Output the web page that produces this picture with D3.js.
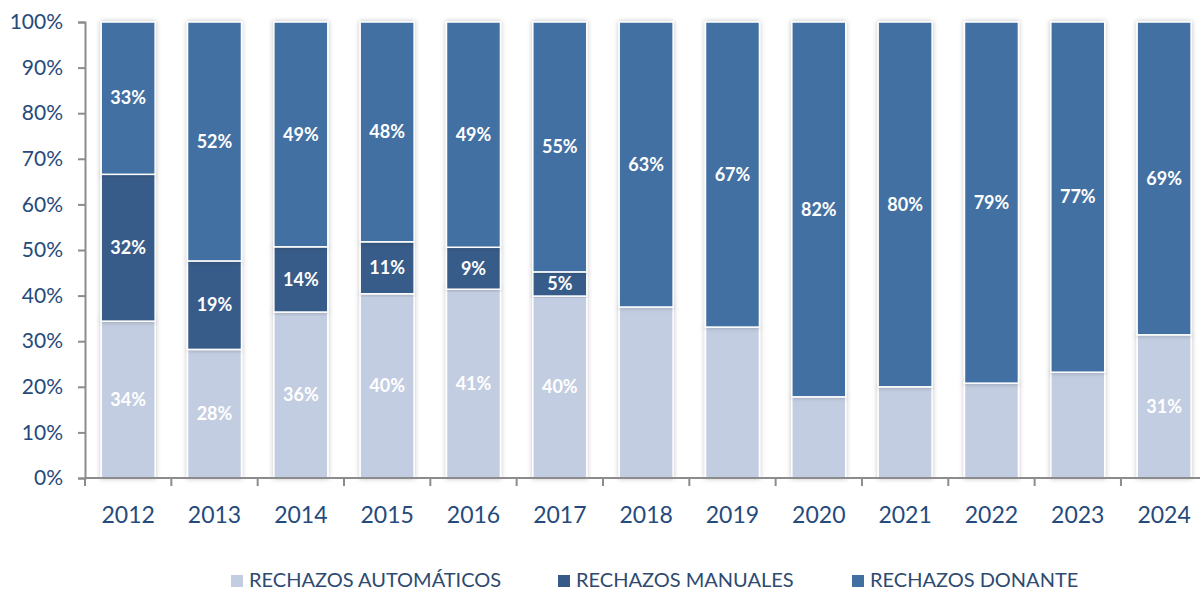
<!DOCTYPE html>
<html>
<head>
<meta charset="utf-8">
<script src="https://cdn.jsdelivr.net/npm/d3@7"></script>
<style>
  body { margin: 0; background: #fff; }
  svg { display: block; font-family: Lato, "Open Sans", sans-serif; }
</style>
</head>
<body>
<script>
// data (percent of rejections per year)
var years = ["2012","2013","2014","2015","2016","2017","2018","2019","2020","2021","2022","2023","2024"];
var automaticos = [34.4, 28.2, 36.4, 40.4, 41.4, 39.9, 37.5, 33.1, 17.8, 20.0, 20.8, 23.2, 31.4];
var manuales    = [32.2, 19.4, 14.3, 11.4, 9.2, 5.3, 0, 0, 0, 0, 0, 0, 0];
var donante     = [33.4, 52.4, 49.3, 48.2, 49.4, 54.8, 62.5, 66.9, 82.2, 80.0, 79.2, 76.8, 68.6];
var showAutoLabel = [true, true, true, true, true, true, false, false, false, false, false, false, true];
var seriesNames = ["RECHAZOS AUTOMÁTICOS", "RECHAZOS MANUALES", "RECHAZOS DONANTE"];
var yTicks = [0, 10, 20, 30, 40, 50, 60, 70, 80, 90, 100];

var colors = ["#c3cde1", "#375b89", "#426fa2"];

var width = 1200;
var height = 591;

var rows = years.map(function(y, i){
    return { year: y, auto: automaticos[i], manual: manuales[i], donante: donante[i], showAuto: showAutoLabel[i] };
});

var svg = d3.select("body").append("svg")
    .attr("width", width)
    .attr("height", height);

var defs = svg.append("defs");
var f = defs.append("filter").attr("id", "shadow")
    .attr("x", "-20%").attr("y", "-5%").attr("width", "140%").attr("height", "110%");
f.append("feDropShadow").attr("dx", 0).attr("dy", 0).attr("stdDeviation", 2.5)
    .attr("flood-color", "#000").attr("flood-opacity", 0.25);

var x = d3.scaleBand()
    .domain(years)
    .range([85, 85 + 13 * 86.33])
    .paddingInner(0.375)
    .paddingOuter(0.1875);

var y = d3.scaleLinear()
    .domain([0, 100])
    .range([478, 22]);

var keys = ["auto", "manual", "donante"];
var stack = d3.stack().keys(keys);
var stacked = stack(rows);

// y axis
var yAxis = svg.append("g")
    .attr("transform", "translate(85,0)")
    .call(d3.axisLeft(y).tickValues(yTicks).tickSize(7).tickPadding(15).tickFormat(function(d){ return d + "%"; }));
yAxis.select(".domain").attr("stroke", "#8c8c8c").attr("stroke-width", 2);
yAxis.selectAll(".tick line").attr("stroke", "#8c8c8c").attr("stroke-width", 2);
yAxis.selectAll("text").attr("fill", "#254a7c").style("font-size", "21px").style("font-family", "Lato, sans-serif");

// bars
var groups = svg.append("g").selectAll("g")
    .data(stacked)
    .enter().append("g")
    .attr("fill", function(d, i){ return colors[i]; });

groups.selectAll("rect")
    .data(function(d){ return d; })
    .enter().append("rect")
    .filter(function(d){ return d[1] - d[0] > 0; })
    .attr("x", function(d){ return x(d.data.year); })
    .attr("y", function(d){ return y(d[1]); })
    .attr("width", x.bandwidth())
    .attr("height", function(d){ return y(d[0]) - y(d[1]); })
    .attr("stroke", "#fff")
    .attr("stroke-width", 1.5)
    .attr("filter", "url(#shadow)");

// data labels
groups.each(function(s, si){
    d3.select(this).selectAll("text")
        .data(s.filter(function(d){
            if (d[1] - d[0] <= 0) return false;
            if (si === 0) return d.data.showAuto;
            return true;
        }))
        .enter().append("text")
        .attr("x", function(d){ return x(d.data.year) + x.bandwidth() / 2; })
        .attr("y", function(d){ return y((d[0] + d[1]) / 2); })
        .attr("dy", "0.35em")
        .attr("text-anchor", "middle")
        .attr("fill", "#fff")
        .style("font-size", "18px")
        .style("font-weight", "bold")
        .text(function(d){ return Math.round(d[1] - d[0]) + "%"; });
});

// x axis
var xAxis = svg.append("g")
    .attr("transform", "translate(0,478)");
xAxis.append("line")
    .attr("x1", 85).attr("x2", 85 + 13 * 86.33)
    .attr("stroke", "#8c8c8c").attr("stroke-width", 2);
xAxis.selectAll(".sep")
    .data(years)
    .enter().append("line")
    .attr("class", "sep")
    .attr("x1", function(d){ return x(d) - x.step() * 0.1875; })
    .attr("x2", function(d){ return x(d) - x.step() * 0.1875; })
    .attr("y1", 0).attr("y2", 8)
    .attr("stroke", "#8c8c8c").attr("stroke-width", 2);
xAxis.selectAll(".lbl")
    .data(years)
    .enter().append("text")
    .attr("x", function(d){ return x(d) + x.bandwidth() / 2; })
    .attr("y", 45)
    .attr("text-anchor", "middle")
    .attr("fill", "#254a7c")
    .style("font-size", "23px")
    .text(function(d){ return d; });

// legend
var legendX = [231, 558, 852];
var legend = svg.append("g").selectAll("g")
    .data(seriesNames)
    .enter().append("g")
    .attr("transform", function(d, i){ return "translate(" + legendX[i] + ",587)"; });
legend.append("rect")
    .attr("x", 0).attr("y", -12)
    .attr("width", 12).attr("height", 12)
    .attr("fill", function(d, i){ return colors[i]; });
legend.append("text")
    .attr("x", 18)
    .attr("fill", "#2e4a70")
    .style("font-size", "20px")
    .text(function(d){ return d; });
</script>
</body>
</html>
